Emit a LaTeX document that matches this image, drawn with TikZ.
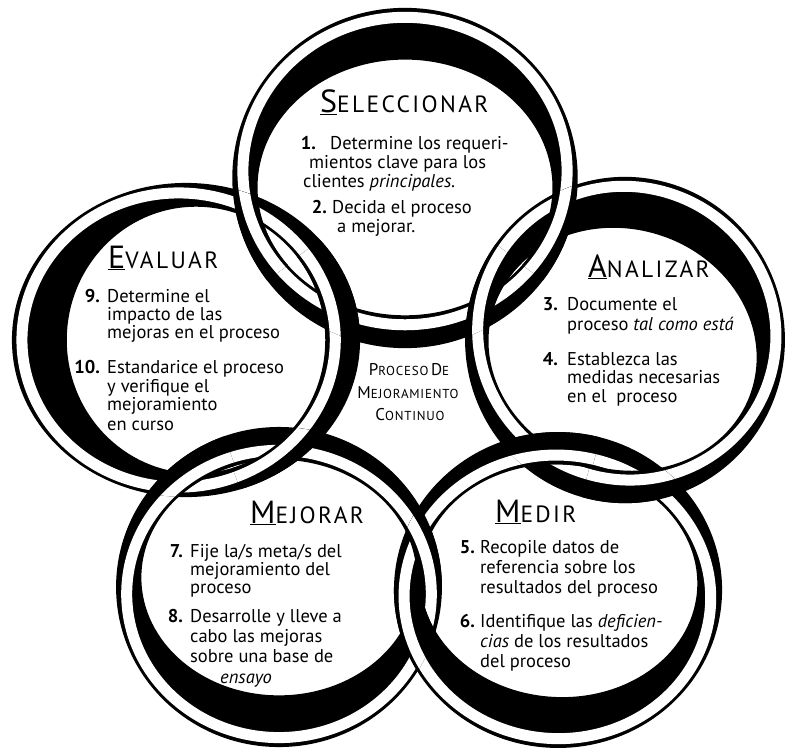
\documentclass[tikz,border=0pt]{standalone}
\usepackage{fontspec}
\setmainfont{PT Sans}
\usetikzlibrary{calc}

% One shaded ring: black band with a white highlight stripe.
% #1,#2 centre, #3 base radius, #4 direction (deg) of the heavy side,
% #5,#6 horizontal / vertical stretch
\newcommand\ringshape[6]{%
  \begin{scope}[shift={(#1,#2)}, xscale=#5, yscale=#6, rotate=#4]
    \fill[black, even odd rule] (0,0) circle (#3)
      (-9.5,0) ellipse [x radius=#3-42.5, y radius=#3-25];
    \draw[white, line width=11pt] (7,0) ellipse [x radius=#3-16.5, y radius=#3-10.5];
  \end{scope}}

\newcommand\RingSel{\ringshape{405}{178}{171}{90}{1.01}{0.995}}
\newcommand\RingEva{\ringshape{186}{340}{165}{180}{1.055}{0.952}}
\newcommand\RingAna{\ringshape{625}{340}{161.5}{75}{0.99}{1.01}}
\newcommand\RingMej{\ringshape{279}{587}{161}{-90}{1.012}{0.994}}
\newcommand\RingMed{\ringshape{558}{590}{161}{-95}{1.019}{0.981}}

% Redraw a ring over its neighbour on one side of the line joining their centres.
% #1 ring, #2 neighbour centre, #3/#4 neighbour radii, #5 foot point,
% #6 +5000pt (inner side) or -5000pt (outer side)
\newcommand\weave[6]{%
  \begin{scope}
    \clip (#2) ellipse [x radius=#3, y radius=#4];
    \clip ($(#5)!#6!(F0)$) circle (5000pt);
    #1
  \end{scope}}

\newcommand\ttl[2]{\underline{\fontsize{32}{32}\selectfont #1}%
  {\addfontfeature{LetterSpace=10}\fontsize{23.5}{24}\selectfont #2}}
\newcommand\smcp[2]{{\fontsize{17}{17}\selectfont #1}%
  {\addfontfeature{LetterSpace=6}\fontsize{13}{13}\selectfont #2}}

\begin{document}
\begin{tikzpicture}[x=1pt, y=-1pt,
  body/.style={anchor=base west, inner sep=0pt, font=\fontsize{18.5}{20}\selectfont},
  num/.style={anchor=base east, inner sep=0pt, font=\bfseries\fontsize{18.5}{20}\selectfont},
  title/.style={anchor=base west, inner sep=0pt},
  centre/.style={anchor=base, inner sep=0pt}]

\useasboundingbox[fill=white] (0,0) rectangle (799,752);

\coordinate (F0) at (411,407);
\coordinate (cS) at (405,178);
\coordinate (cE) at (186,340);
\coordinate (cA) at (625,340);
\coordinate (cM) at (279,587);
\coordinate (cD) at (558,590);

\coordinate (qSE) at ($(cS)!(F0)!(cE)$);
\coordinate (qSA) at ($(cS)!(F0)!(cA)$);
\coordinate (qAD) at ($(cA)!(F0)!(cD)$);
\coordinate (qDM) at ($(cD)!(F0)!(cM)$);
\coordinate (qME) at ($(cM)!(F0)!(cE)$);

% rings
\RingSel \RingEva \RingAna \RingMej \RingMed

% interlacing
\weave{\RingSel}{cE}{174}{157}{qSE}{-5000pt}
\weave{\RingEva}{cS}{173}{170}{qSE}{5000pt}
\weave{\RingSel}{cA}{160}{163}{qSA}{-5000pt}
\weave{\RingAna}{cS}{173}{170}{qSA}{5000pt}
\weave{\RingAna}{cD}{164}{158}{qAD}{-5000pt}
\weave{\RingMed}{cA}{160}{163}{qAD}{5000pt}
\weave{\RingMed}{cM}{163}{160}{qDM}{-5000pt}
\weave{\RingMej}{cD}{164}{158}{qDM}{5000pt}
\weave{\RingMej}{cE}{174}{157}{qME}{-5000pt}
\weave{\RingEva}{cM}{163}{160}{qME}{5000pt}

% Seleccionar
\node[title] (tS) at (320,112) {\ttl{S}{ELECCIONAR}};
\node[num] (n1) at (316,149) {1.};
\node[body] (s1a) at (330,149) {Determine los requeri-};
\node[body] (s1b) at (309,168) {mientos clave para los};
\node[body] (s1c) at (303,187) {clientes \textit{principales.}};
\node[num] (n2) at (327,213) {2.};
\node[body] (s2a) at (332,213) {Decida el proceso};
\node[body] (s2b) at (337,232) {a mejorar.};

% Evaluar
\node[title] (tE) at (108,268) {\ttl{E}{VALUAR}};
\node[num] (n9) at (100,302) {9.};
\node[body] (e9a) at (107,302) {Determine el};
\node[body] (e9b) at (107,320) {impacto de las};
\node[body] (e9c) at (107,338) {mejoras en el proceso};
\node[num] (n10) at (100,373) {10.};
\node[body] (e10a) at (107,373) {Estandarice el proceso};
\node[body] (e10b) at (107,392) {y verifique el};
\node[body] (e10c) at (107,410) {mejoramiento};
\node[body] (e10d) at (107,430) {en curso};

% Analizar
\node[title] (tA) at (588,277) {\ttl{A}{NALIZAR}};
\node[num] (n3) at (558,310) {3.};
\node[body] (a3a) at (567,310) {Documente el};
\node[body] (a3b) at (567,330) {proceso \textit{tal como está}};
\node[num] (n4) at (558,365) {4.};
\node[body] (a4a) at (567,365) {Establezca las};
\node[body] (a4b) at (567,383) {medidas necesarias};
\node[body] (a4c) at (567,402) {en el\ \ proceso};

% Mejorar
\node[title] (tM) at (250,523) {\ttl{M}{EJORAR}};
\node[num] (n7) at (183,557) {7.};
\node[body] (m7a) at (190,557) {Fije la/s meta/s del};
\node[body] (m7b) at (190,575) {mejoramiento del};
\node[body] (m7c) at (190,593) {proceso};
\node[num] (n8) at (183,622) {8.};
\node[body] (m8a) at (190,622) {Desarrolle y lleve a};
\node[body] (m8b) at (190,642) {cabo las mejoras};
\node[body] (m8c) at (190,662) {sobre una base de};
\node[body] (m8d) at (220,683) {\textit{ensayo}};

% Medir
\node[title] (tD) at (495,522) {\ttl{M}{EDIR}};
\node[num] (n5) at (475,553) {5.};
\node[body] (d5a) at (480,553) {Recopile datos de};
\node[body] (d5b) at (480,573) {referencia sobre los};
\node[body] (d5c) at (480,593) {resultados del proceso};
\node[num] (n6) at (475,627) {6.};
\node[body] (d6a) at (480,627) {Identifique las \textit{deficien-}};
\node[body] (d6b) at (480,647) {\textit{cias} de los resultados};
\node[body] (d6c) at (480,667) {del proceso};

% centre
\node[centre] (c1) at (409,375) {\smcp{P}{ROCESO} \smcp{D}{E}};
\node[centre] (c2) at (408,398) {\smcp{M}{EJORAMIENTO}};
\node[centre] (c3) at (410,420) {\smcp{C}{ONTINUO}};
\end{tikzpicture}
\end{document}
